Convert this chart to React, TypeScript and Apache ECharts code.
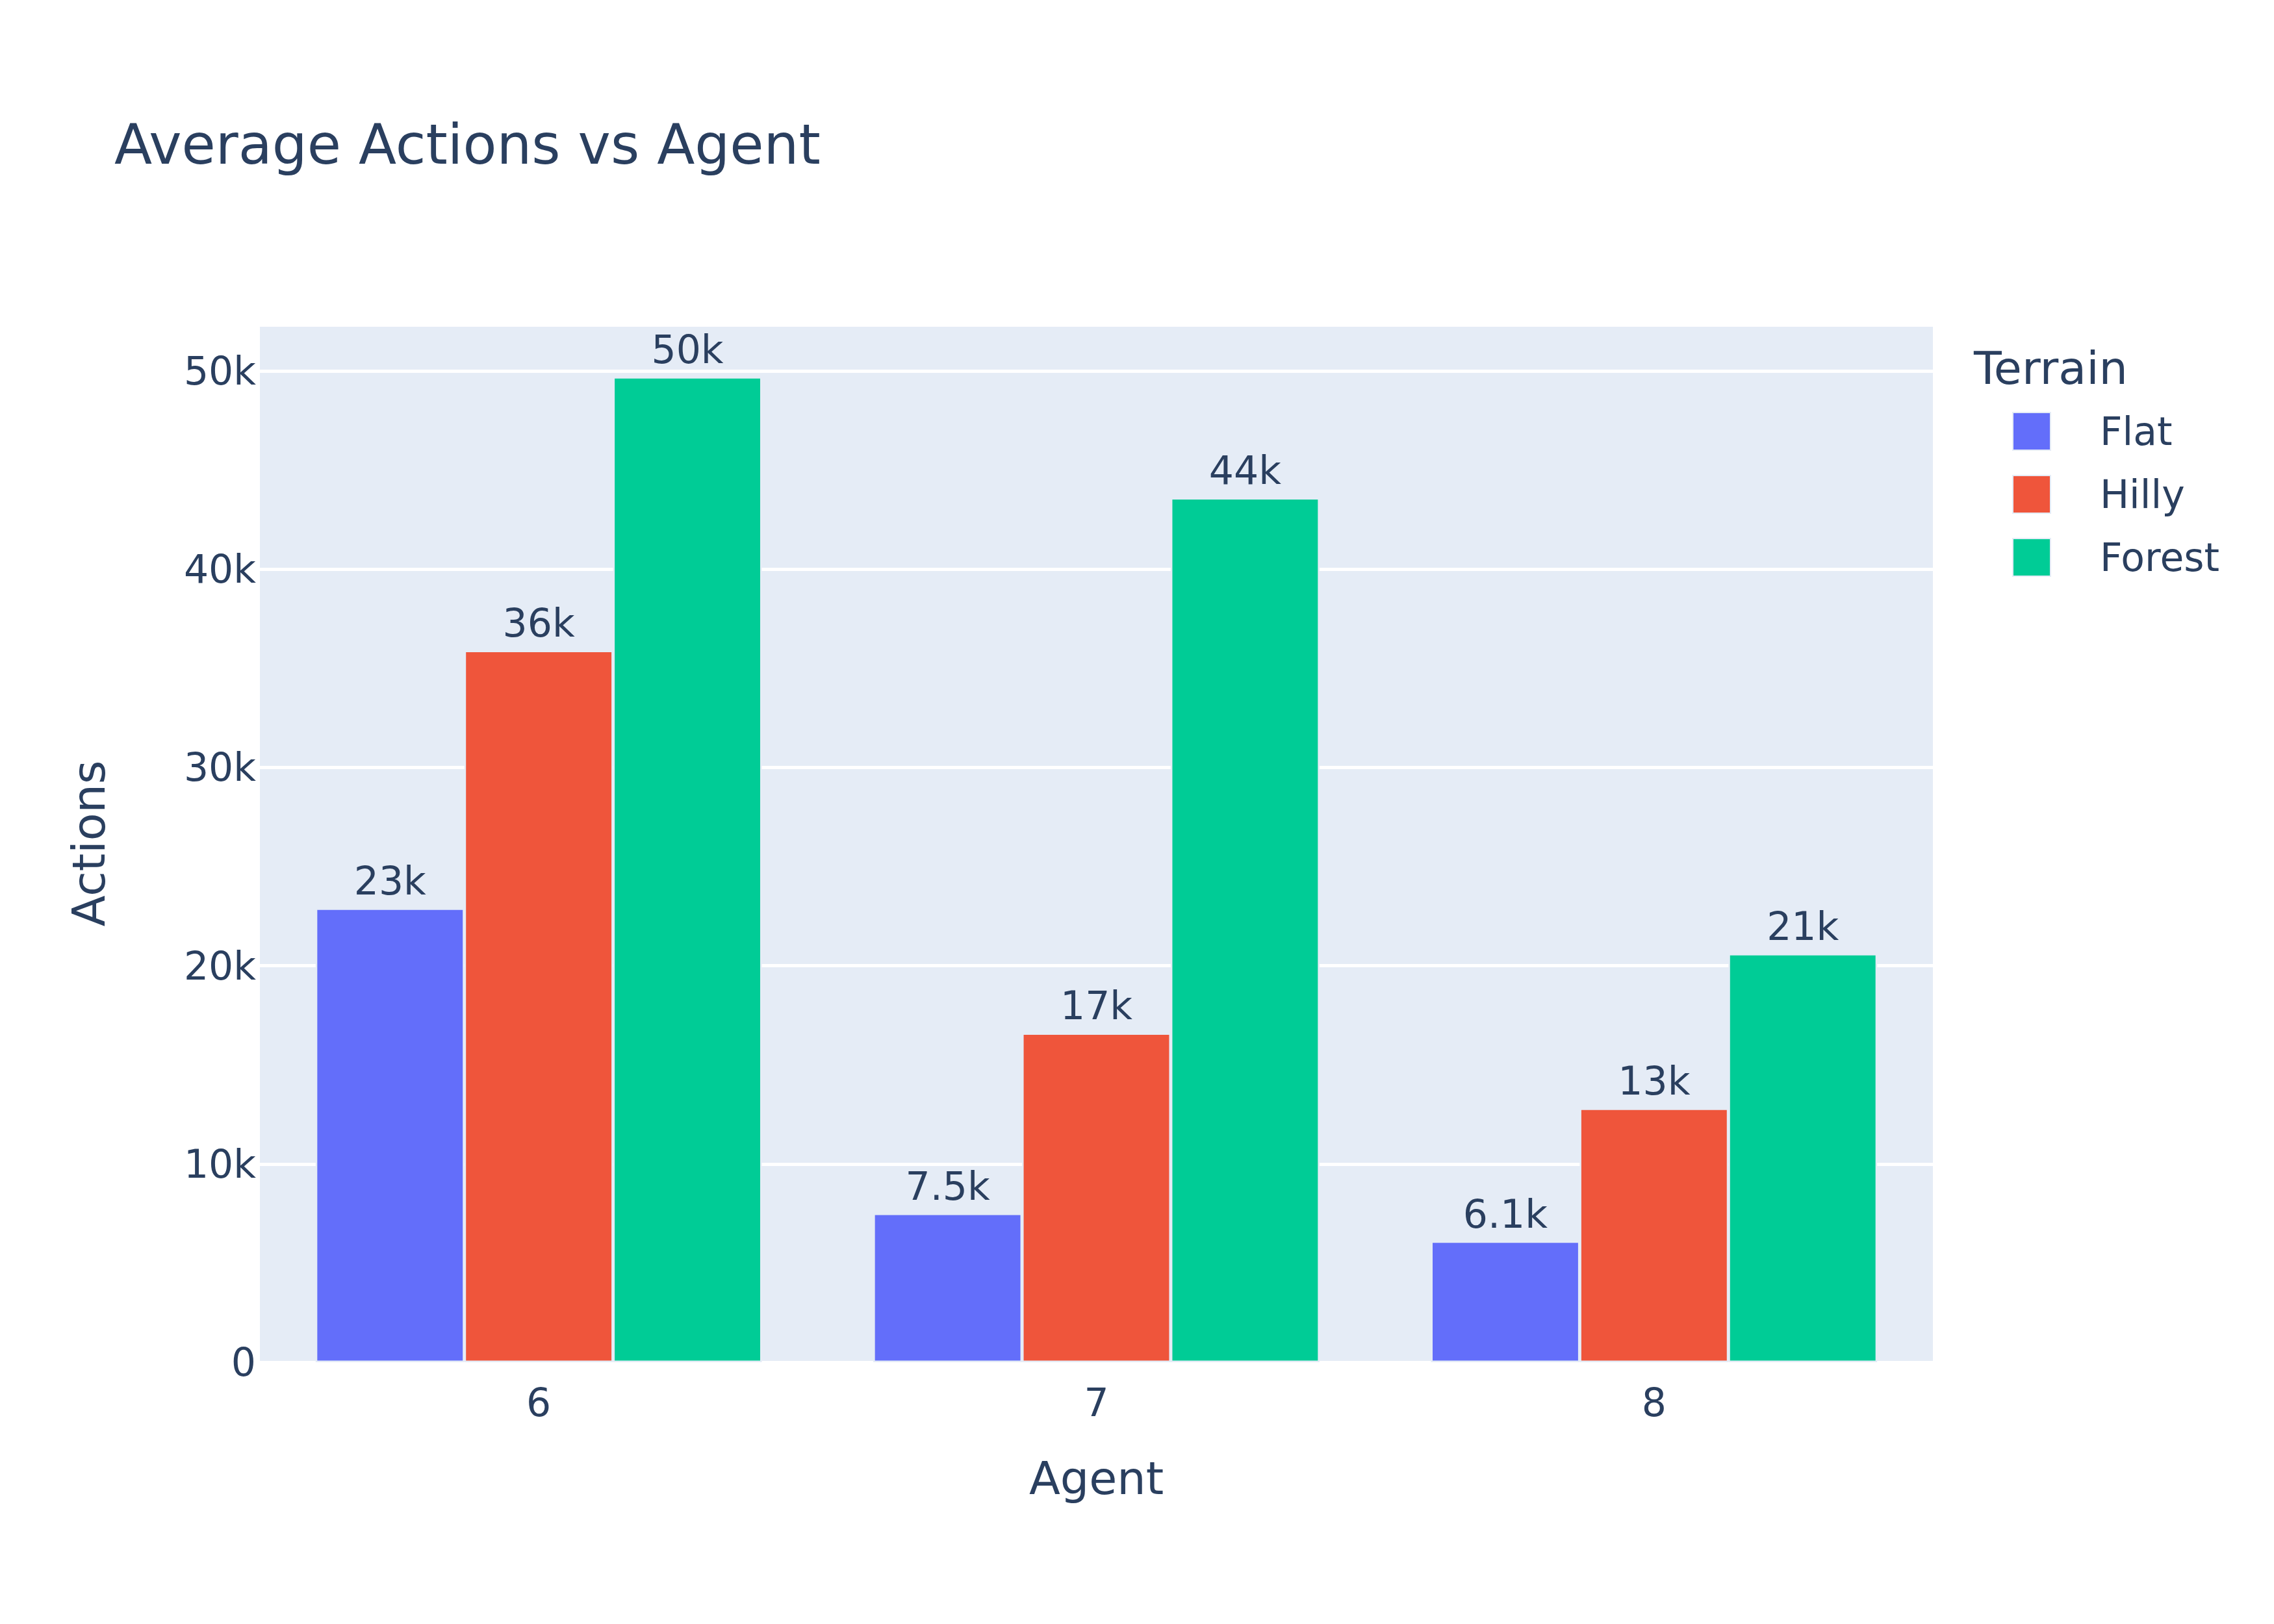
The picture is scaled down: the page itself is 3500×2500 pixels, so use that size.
import React, { useEffect, useRef } from "react";
import * as echarts from "echarts";

const categories = ["6", "7", "8"];
const seriesNames = ["Flat", "Hilly", "Forest"];
const flatValues = [22900, 7500, 6100];
const hillyValues = [35900, 16600, 12800];
const forestValues = [49700, 43600, 20600];
const yTicks = [0, 10000, 20000, 30000, 40000, 50000];
const colors = ["#636efa", "#EF553B", "#00cc96"];

const FONT = "DejaVu Sans";
const TEXT = "#2a3f5f";

function kFormat(v: number): string {
  if (v === 0) return "0";
  return Number((v / 1000).toPrecision(2)) + "k";
}

export default function App() {
  const ref = useRef<HTMLDivElement>(null);
  useEffect(() => {
    document.body.style.margin = "0";
    if (!ref.current) return;
    const chart = echarts.init(ref.current, undefined, { renderer: "svg" });
    const data = [flatValues, hillyValues, forestValues];
    chart.setOption({
      animation: false,
      backgroundColor: "#ffffff",
      textStyle: { fontFamily: FONT },
      title: {
        text: "Average Actions vs Agent",
        left: 176,
        top: 180,
        padding: 0,
        textStyle: { fontFamily: FONT, fontSize: 85, fontWeight: "normal", color: TEXT },
      },
      grid: { left: 400, right: 525, top: 500, bottom: 403, containLabel: false, show: true, backgroundColor: "#E5ECF6", borderWidth: 0 },
      legend: {
        orient: "vertical",
        left: 3097,
        top: 634,
        padding: 0,
        itemWidth: 58,
        itemHeight: 58,
        itemGap: 37,
        icon: "rect",
        data: seriesNames,
        itemStyle: { borderColor: "#E5ECF6", borderWidth: 2 },
        textStyle: { fontFamily: FONT, fontSize: 60, lineHeight: 58, color: TEXT, padding: [0, 0, 0, 71] },
      },
      graphic: [
        {
          type: "text",
          left: 3038,
          top: 532,
          style: { text: "Terrain", fontFamily: FONT, fontSize: 70, fill: TEXT },
        },
      ],
      xAxis: {
        type: "category",
        data: categories,
        name: "Agent",
        nameLocation: "middle",
        nameGap: 144,
        nameTextStyle: { fontFamily: FONT, fontSize: 70, color: TEXT },
        axisLine: { show: false },
        axisTick: { show: false },
        axisLabel: { fontFamily: FONT, fontSize: 60, color: TEXT, margin: 32 },
        splitLine: { show: false },
      },
      yAxis: {
        type: "value",
        min: yTicks[0],
        max: 52330,
        interval: 10000,
        name: "Actions",
        nameLocation: "middle",
        nameGap: 228,
        nameTextStyle: { fontFamily: FONT, fontSize: 70, color: TEXT },
        axisLine: { show: false },
        axisTick: { show: false },
        axisLabel: {
          fontFamily: FONT,
          fontSize: 60,
          color: TEXT,
          margin: 6,
          showMaxLabel: false,
          formatter: (v: number) => (yTicks.includes(v) ? kFormat(v) : ""),
        },
        splitLine: { show: true, lineStyle: { color: "#ffffff", width: 5 } },
      },
      series: seriesNames.map((name, i) => ({
        name,
        type: "bar",
        data: data[i],
        barGap: "0%",
        barCategoryGap: "20%",
        itemStyle: { color: colors[i], borderColor: "#E5ECF6", borderWidth: 2.5 },
        label: {
          show: true,
          position: "top",
          distance: 12,
          fontFamily: FONT,
          fontSize: 60,
          color: TEXT,
          formatter: (p: any) => kFormat(p.value),
        },
      })),
    });
    return () => chart.dispose();
  }, []);
  return <div ref={ref} style={{ width: 3500, height: 2500 }} />;
}
